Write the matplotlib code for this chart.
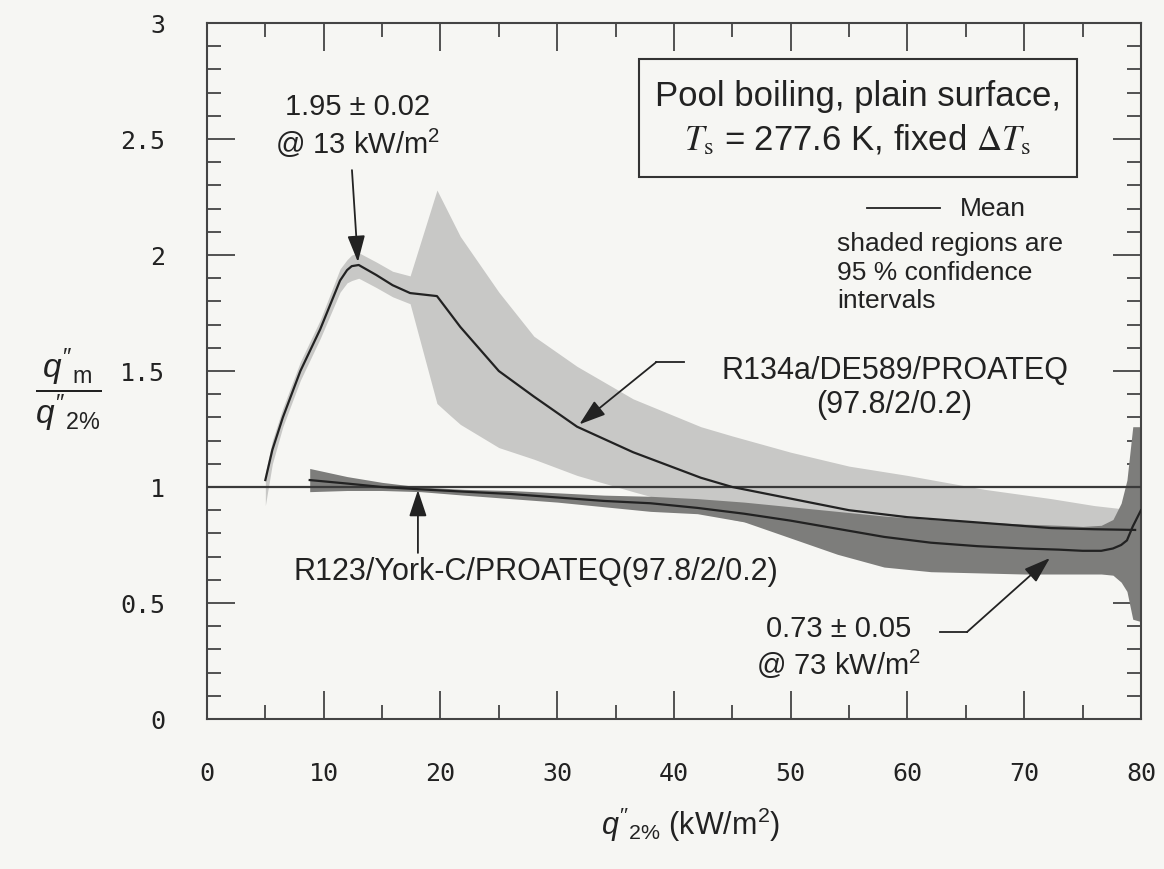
import numpy as np
import matplotlib
matplotlib.use('Agg')
import matplotlib.pyplot as plt
from matplotlib.patches import Rectangle
from matplotlib.ticker import MultipleLocator

plt.rcParams['font.family'] = ['Liberation Sans', 'DejaVu Sans']
plt.rcParams['mathtext.fontset'] = 'custom'
plt.rcParams['mathtext.rm'] = 'Liberation Sans'
plt.rcParams['mathtext.it'] = 'Liberation Sans:italic'
plt.rcParams['mathtext.bf'] = 'Liberation Sans:bold'

# R134a/DE589/PROATEQ mean and 95% band
x134 = [5, 5.6, 6.5, 8, 9.7, 11.4, 12.0, 12.4, 13, 14.5, 15.9, 17.4, 19.7, 20.8, 21.7, 25, 28,
        31.7, 36.5, 42.3, 45, 50, 55, 60, 66.6, 72.3, 76, 79.5]
mean134 = [1.03, 1.16, 1.30, 1.50, 1.68, 1.89, 1.935, 1.952, 1.957, 1.914, 1.87, 1.836, 1.823,
           1.75, 1.69, 1.50, 1.39, 1.26, 1.15, 1.04, 1.00, 0.95, 0.90, 0.87, 0.845, 0.823, 0.818, 0.815]
upper134 = [1.06, 1.20, 1.34, 1.54, 1.72, 1.94, 1.98, 2.00, 2.01, 1.97, 1.93, 1.91, 2.28,
            2.17, 2.08, 1.84, 1.65, 1.52, 1.38, 1.26, 1.22, 1.15, 1.09, 1.05, 0.99, 0.95, 0.92, 0.90]
lower134 = [0.92, 1.10, 1.26, 1.46, 1.64, 1.84, 1.88, 1.89, 1.90, 1.86, 1.82, 1.79, 1.36,
            1.31, 1.27, 1.17, 1.12, 1.05, 0.98, 0.90, 0.86, 0.81, 0.77, 0.75, 0.73, 0.72, 0.71, 0.71]

# R123/York-C/PROATEQ mean and 95% band
x123 = [8.8, 12, 15, 18.3, 22, 26, 30, 34, 38, 42, 46, 50, 54, 58, 62, 66, 70, 73,
        75, 76.6, 77.6, 78.3, 78.8, 79.3, 80]
mean123 = [1.03, 1.015, 1.0, 0.99, 0.98, 0.97, 0.955, 0.94, 0.93, 0.91, 0.885, 0.855,
           0.82, 0.785, 0.76, 0.745, 0.735, 0.73, 0.725, 0.725, 0.735, 0.75, 0.77, 0.83, 0.90]
upper123 = [1.08, 1.045, 1.02, 1.0, 0.99, 0.985, 0.975, 0.965, 0.96, 0.95, 0.935, 0.915,
            0.895, 0.875, 0.86, 0.85, 0.84, 0.835, 0.83, 0.835, 0.86, 0.93, 1.03, 1.26, 1.26]
lower123 = [0.98, 0.985, 0.985, 0.98, 0.965, 0.95, 0.935, 0.915, 0.895, 0.885, 0.85, 0.78,
            0.71, 0.655, 0.635, 0.63, 0.625, 0.625, 0.625, 0.625, 0.62, 0.59, 0.55, 0.43, 0.42]

yticks = [0, 0.5, 1, 1.5, 2, 2.5, 3]
ytick_labels = ['0', '0.5', '1', '1.5', '2', '2.5', '3']

bg = '#f6f6f3'
ink = '#222222'

fig = plt.figure(figsize=(11.64, 8.69), dpi=100, facecolor=bg)
ax = fig.add_axes([0.1778, 0.1726, 0.8024, 0.8009], facecolor=bg)

ax.fill_between(x134, lower134, upper134, color='#c8c8c6', lw=0, zorder=1)
ax.fill_between(x123, lower123, upper123, color='#7d7d7b', lw=0, zorder=2)
ax.axhline(1, color='#3a3a3a', lw=1.6, zorder=3)
ax.plot(x134, mean134, color=ink, lw=1.6, zorder=4)
ax.plot(x123, mean123, color=ink, lw=1.6, zorder=4)

ax.set_xlim(0, 80)
ax.set_ylim(0, 3)
ax.xaxis.set_major_locator(MultipleLocator(10))
ax.xaxis.set_minor_locator(MultipleLocator(5))
ax.set_yticks(yticks)
ax.set_yticklabels(ytick_labels)
ax.yaxis.set_minor_locator(MultipleLocator(0.1))
ax.tick_params(which='both', direction='in', top=True, right=True, color='#444', width=1.3)
ax.tick_params(which='major', length=20, labelsize=18, labelcolor=ink)
ax.tick_params(which='minor', length=10)
ax.tick_params(axis='y', which='major', pad=30)
ax.tick_params(axis='x', which='major', pad=31)
for lab in ax.get_xticklabels() + ax.get_yticklabels():
    lab.set_family('DejaVu Sans Mono')
for s in ax.spines.values():
    s.set_color('#444')
    s.set_linewidth(1.5)

fig.text(0.5936, 0.0506, r"$q''_{2\%}$ (kW/m$^2$)", ha='center', va='center', fontsize=22, color=ink)
fig.text(0.0584, 0.551, r"$\dfrac{q''_{\mathrm{m}}}{q''_{2\%}}$", ha='center', va='center',
         fontsize=24, color=ink)

arrow = dict(arrowstyle='-|>,head_length=0.9,head_width=0.3', color=ink, lw=1.3,
             mutation_scale=18, shrinkA=0, shrinkB=0)

# peak annotation
ax.text(12.93, 2.554, '1.95 ± 0.02\n@ 13 kW/m$^2$', ha='center', va='center', fontsize=21,
        color=ink, linespacing=1.2)
ax.annotate('', xy=(12.93, 1.97), xytext=(12.42, 2.366), arrowprops=arrow)

# condition box
ax.add_patch(Rectangle((37.0, 2.336), 37.5, 0.509, fc=bg, ec='#333', lw=1.5, zorder=5))
ax.text(55.76, 2.59, 'Pool boiling, plain surface,\n$T_\\mathrm{s}$ = 277.6 K, fixed $\\Delta T_\\mathrm{s}$',
        ha='center', va='center', fontsize=25, color=ink, linespacing=1.35,
        math_fontfamily='stix', zorder=6)

# legend note
ax.plot([56.5, 62.8], [2.203, 2.203], color=ink, lw=1.3)
ax.text(64.5, 2.198, 'Mean', ha='left', va='center', fontsize=19, color=ink)
ax.text(53.96, 2.10, 'shaded regions are\n95 % confidence\nintervals', ha='left', va='top',
        fontsize=19, color=ink, linespacing=1.25)

# R134a label
ax.text(58.9, 1.427, 'R134a/DE589/PROATEQ\n(97.8/2/0.2)', ha='center', va='center',
        fontsize=22, color=ink, linespacing=1.2)
ax.plot([40.9, 38.5], [1.539, 1.539], color=ink, lw=1.3)
ax.annotate('', xy=(31.9, 1.27), xytext=(38.5, 1.539), arrowprops=arrow)

# R123 label
ax.text(28.2, 0.634, 'R123/York-C/PROATEQ(97.8/2/0.2)', ha='center', va='center',
        fontsize=22, color=ink)
ax.annotate('', xy=(18.07, 0.987), xytext=(18.07, 0.716), arrowprops=arrow)

# minimum annotation
ax.text(54.1, 0.306, '0.73 ± 0.05\n@ 73 kW/m$^2$', ha='center', va='center', fontsize=21,
        color=ink, linespacing=1.2)
ax.plot([62.8, 65.1], [0.375, 0.375], color=ink, lw=1.3)
ax.annotate('', xy=(72.2, 0.694), xytext=(65.1, 0.375), arrowprops=arrow)

fig.savefig('out.png', dpi=100, facecolor=bg)
